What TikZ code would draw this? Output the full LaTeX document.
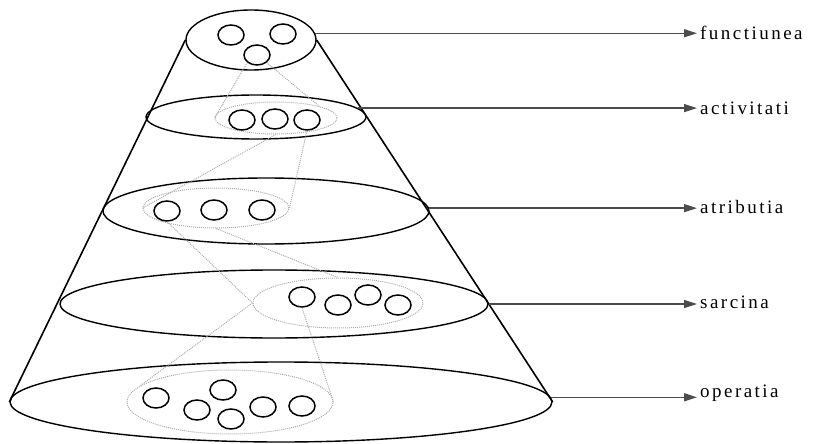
\documentclass[tikz,border=0pt]{standalone}
\usepackage{fontspec}
\setmainfont{Liberation Serif}
\newfontfamily\tierfont[LetterSpace=13]{Liberation Serif}
\usetikzlibrary{shapes.geometric,arrows.meta}

\tikzset{
    layer/.style 2 args={draw, ellipse, line width=1.4pt, minimum width=#1, minimum height=#2, inner sep=0pt},
    group/.style 2 args={draw=gray!65, ellipse, densely dotted, line width=1pt, minimum width=#1, minimum height=#2, inner sep=0pt},
    elem/.style={draw, ellipse, line width=1.5pt, minimum width=26pt, minimum height=20pt, inner sep=0pt},
    link/.style={gray!65, densely dotted, line width=1pt},
    pointer/.style={-{Triangle[length=13pt, width=8pt]}, line width=1.4pt, black!70},
    tiername/.style={anchor=west, inner sep=3pt, font=\tierfont\fontsize{19}{21}\selectfont}
}

\begin{document}
\begin{tikzpicture}[x=1pt, y=-1pt]

    \useasboundingbox (0, 0) rectangle (820, 444);

    % Layers of the cone
    \node[layer={130pt}{60pt}] (l1) at (251, 40) {};
    \node[layer={220pt}{44pt}] (l2) at (256, 117) {};
    \node[layer={326pt}{66pt}] (l3) at (266, 211) {};
    \node[layer={428pt}{68pt}] (l4) at (274, 304) {};
    \node[layer={542pt}{80pt}] (l5) at (281, 402) {};

    % Sides of the cone
    \draw[line width=1.6pt] (l1.west) -- (l5.west);
    \draw[line width=1.6pt] (l1.east) -- (l5.east);

    % Dotted groups
    \node[group={122pt}{32pt}] (g2) at (276, 118) {};
    \node[group={146pt}{40pt}] (g3) at (216, 208) {};
    \node[group={170pt}{50pt}] (g4) at (338, 303) {};
    \node[group={206pt}{64pt}] (g5) at (230, 402) {};

    % Elements
    \node[elem] (c11) at (231, 35) {};
    \node[elem] (c12) at (283, 34) {};
    \node[elem] (c13) at (257, 55) {};

    \node[elem] (c21) at (242, 120) {};
    \node[elem] (c22) at (275, 119) {};
    \node[elem] (c23) at (307, 120) {};

    \node[elem] (c31) at (167, 211) {};
    \node[elem] (c32) at (214, 210) {};
    \node[elem] (c33) at (262, 210) {};

    \node[elem] (c41) at (302, 297) {};
    \node[elem] (c42) at (338, 305) {};
    \node[elem] (c43) at (368, 295) {};
    \node[elem] (c44) at (398, 305) {};

    \node[elem] (c51) at (156, 398) {};
    \node[elem] (c52) at (197, 410) {};
    \node[elem] (c53) at (223, 390) {};
    \node[elem] (c54) at (231, 419) {};
    \node[elem] (c55) at (263, 407) {};
    \node[elem] (c56) at (302, 406) {};

    % Links between levels
    \draw[link] (c13.south west) -- (g2.west);
    \draw[link] (c13.south east) -- (g2.north east);
    \draw[link] (g2.south) -- (g3.west);
    \draw[link] (c23.south) -- (g3.east);
    \draw[link] (c31.south) -- (g4.west);
    \draw[link] (g3.south) -- (g4.north);
    \draw[link] (g4.west) -- (g5.170);
    \draw[link] (c41.south) -- (g5.east);

    % Level names
    \node[tiername] (t1) at (697, 33) {functiunea};
    \node[tiername] (t2) at (697, 108) {activitati};
    \node[tiername] (t3) at (697, 207) {atributia};
    \node[tiername] (t4) at (697, 302) {sarcina};
    \node[tiername] (t5) at (697, 393) {operatia};

    \draw[pointer] (l1.6.3) -- (l1.6.3 -| t1.west);
    \draw[pointer] (l2.5.1) -- (l2.5.1 -| t2.west);
    \draw[pointer] (l3.1.4) -- (l3.1.4 -| t3.west);
    \draw[pointer] (l4.0.5) -- (l4.0.5 -| t4.west);
    \draw[pointer] (l5.1.95) -- (l5.1.95 -| t5.west);

\end{tikzpicture}
\end{document}
